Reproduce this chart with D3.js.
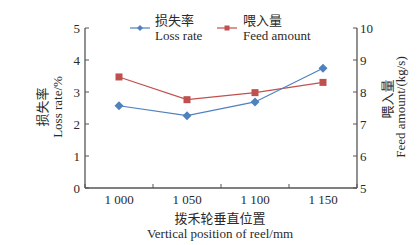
<!DOCTYPE html>
<html><head><meta charset="utf-8">
<script src="https://cdn.jsdelivr.net/npm/d3@7"></script>
<style>
html,body{margin:0;padding:0;background:#fff;}
svg{display:block;}
text{font-family:"Liberation Serif","Times New Roman",serif;fill:#2a2a2a;}
.cjk{font-family:"Noto Sans CJK SC",sans-serif;}
</style></head><body>
<svg id="c" width="417" height="245"></svg>
<script>
const categories = ["1 000", "1 050", "1 100", "1 150"];
const lossRate = [2.57, 2.26, 2.69, 3.74];
const feedAmount = [8.47, 7.76, 7.98, 8.30];
const leftTicks = [0, 1, 2, 3, 4, 5];
const rightTicks = [5, 6, 7, 8, 9, 10];

const svg = d3.select("#c");
const L = 85, R = 357, T = 28, B = 188;
const axisColor = "#555";
const blue = "#4f81bd", red = "#c0504d";

const x = d3.scaleBand().domain(categories).range([L, R]);
const yL = d3.scaleLinear().domain([0, 5]).range([B, T]);
const yR = d3.scaleLinear().domain([5, 10]).range([B, T]);

// axes lines
const g = svg.append("g");
g.append("line").attr("x1", L).attr("x2", L).attr("y1", T).attr("y2", B).attr("stroke", axisColor).attr("stroke-width", 1.3);
g.append("line").attr("x1", R).attr("x2", R).attr("y1", T).attr("y2", B).attr("stroke", axisColor).attr("stroke-width", 1.3);
g.append("line").attr("x1", L).attr("x2", R).attr("y1", B).attr("y2", B).attr("stroke", axisColor).attr("stroke-width", 1.3);

// left ticks
leftTicks.forEach(t => {
  g.append("line").attr("x1", L).attr("x2", L + 4).attr("y1", yL(t)).attr("y2", yL(t)).attr("stroke", axisColor);
  g.append("text").attr("x", L - 5).attr("y", yL(t)).attr("dy", "0.35em").attr("text-anchor", "end").attr("font-size", 13).text(t);
});
// right ticks
rightTicks.forEach(t => {
  g.append("line").attr("x1", R - 4).attr("x2", R).attr("y1", yR(t)).attr("y2", yR(t)).attr("stroke", axisColor);
  g.append("text").attr("x", R + 3).attr("y", yR(t)).attr("dy", "0.35em").attr("text-anchor", "start").attr("font-size", 13).text(t);
});
// bottom ticks at band boundaries
const bounds = categories.map(c => x(c)).concat([R]);
bounds.forEach(b => {
  g.append("line").attr("x1", b).attr("x2", b).attr("y1", B).attr("y2", B - 4).attr("stroke", axisColor);
});
categories.forEach(c => {
  g.append("text").attr("x", x(c) + x.bandwidth() / 2).attr("y", B + 16).attr("text-anchor", "middle").attr("font-size", 13).text(c);
});

// lines
const cx = c => x(c) + x.bandwidth() / 2;
const lineL = d3.line().x((d, i) => cx(categories[i])).y(d => yL(d));
const lineR = d3.line().x((d, i) => cx(categories[i])).y(d => yR(d));
svg.append("path").attr("d", lineR(feedAmount)).attr("fill", "none").attr("stroke", red).attr("stroke-width", 1.2);
svg.append("path").attr("d", lineL(lossRate)).attr("fill", "none").attr("stroke", blue).attr("stroke-width", 1.2);

const diamond = (px, py, s) => `M${px},${py - s}L${px + s},${py}L${px},${py + s}L${px - s},${py}Z`;
feedAmount.forEach((v, i) => {
  svg.append("rect").attr("x", cx(categories[i]) - 3.5).attr("y", yR(v) - 3.5).attr("width", 7).attr("height", 7).attr("fill", red);
});
lossRate.forEach((v, i) => {
  svg.append("path").attr("d", diamond(cx(categories[i]), yL(v), 4.5)).attr("fill", blue);
});

// legend
const lg = svg.append("g");
lg.append("line").attr("x1", 130).attr("x2", 150).attr("y1", 28).attr("y2", 28).attr("stroke", blue).attr("stroke-width", 1.2);
lg.append("path").attr("d", diamond(140, 28, 3)).attr("fill", blue);
lg.append("text").attr("class", "cjk").attr("x", 155).attr("y", 25).attr("font-size", 13).text("损失率");
lg.append("text").attr("x", 155).attr("y", 40).attr("font-size", 13).text("Loss rate");
lg.append("line").attr("x1", 217).attr("x2", 237).attr("y1", 28).attr("y2", 28).attr("stroke", red).attr("stroke-width", 1.2);
lg.append("rect").attr("x", 224.5).attr("y", 25.5).attr("width", 5).attr("height", 5).attr("fill", red);
lg.append("text").attr("class", "cjk").attr("x", 243).attr("y", 25).attr("font-size", 13).text("喂入量");
lg.append("text").attr("x", 243).attr("y", 40).attr("font-size", 13).text("Feed amount");

// axis titles
svg.append("text").attr("class", "cjk").attr("transform", "translate(47,107) rotate(-90)").attr("text-anchor", "middle").attr("font-size", 13).text("损失率");
svg.append("text").attr("transform", "translate(62,107) rotate(-90)").attr("text-anchor", "middle").attr("font-size", 13).text("Loss rate/%");
svg.append("text").attr("class", "cjk").attr("transform", "translate(392,99) rotate(-90)").attr("text-anchor", "middle").attr("font-size", 13).text("喂入量");
svg.append("text").attr("transform", "translate(405,107) rotate(-90)").attr("text-anchor", "middle").attr("font-size", 13).text("Feed amount/(kg/s)");
svg.append("text").attr("class", "cjk").attr("x", 220).attr("y", 223).attr("text-anchor", "middle").attr("font-size", 13).text("拨禾轮垂直位置");
svg.append("text").attr("x", 220).attr("y", 238).attr("text-anchor", "middle").attr("font-size", 13).text("Vertical position of reel/mm");
</script>
</body></html>
